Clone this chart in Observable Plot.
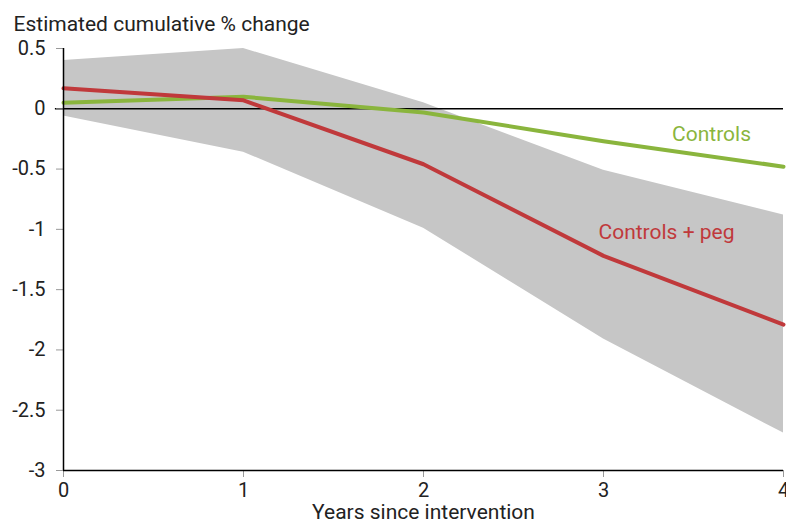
<!DOCTYPE html>
<html>
<head>
<meta charset="utf-8">
<script src="https://cdn.jsdelivr.net/npm/d3@7"></script>
<script src="https://cdn.jsdelivr.net/npm/@observablehq/plot@0.6"></script>
<style>
  html, body { margin: 0; padding: 0; background: #fff; }
  svg { font-family: Roboto, "Noto Sans", sans-serif; }
</style>
</head>
<body>
<div id="chart"></div>
<script>
const years = [0, 1, 2, 3, 4];
const bandUpper = [0.40, 0.50, 0.05, -0.51, -0.88];
const bandLower = [-0.06, -0.36, -0.99, -1.91, -2.69];
const controls = [0.05, 0.10, -0.03, -0.27, -0.48];
const controlsPeg = [0.17, 0.07, -0.46, -1.22, -1.79];
const yTicks = [0.5, 0, -0.5, -1, -1.5, -2, -2.5, -3];
const xTicks = [0, 1, 2, 3, 4];

const band = years.map((x, i) => ({x, lo: bandLower[i], hi: bandUpper[i]}));
const green = years.map((x, i) => ({x, y: controls[i]}));
const red = years.map((x, i) => ({x, y: controlsPeg[i]}));

const fmt = d => d === 0 ? "0" : String(d);

const chart = Plot.plot({
  width: 786,
  height: 523,
  marginLeft: 63,
  marginRight: 3,
  marginTop: 48,
  marginBottom: 53,
  style: {fontFamily: "Roboto, sans-serif", fontSize: "20px", color: "#222", background: "#fff"},
  x: {domain: [0, 4]},
  y: {domain: [-3, 0.5]},
  marks: [
    Plot.areaY(band, {x: "x", y1: "lo", y2: "hi", fill: "#c6c6c6"}),
    Plot.ruleY([0], {stroke: "#000", strokeWidth: 1.5, x1: -0.045, x2: 4}),
    Plot.line(green, {x: "x", y: "y", stroke: "#8ab53d", strokeWidth: 4}),
    Plot.line(red, {x: "x", y: "y", stroke: "#c0393b", strokeWidth: 4}),
    Plot.axisY(yTicks, {tickSize: 7, tickPadding: 11, tickFormat: fmt, stroke: "#999", fill: "#222", fontSize: 20, label: null}),
    Plot.axisX(xTicks, {tickSize: 7, tickPadding: 5, tickFormat: fmt, stroke: "#999", fill: "#222", fontSize: 20, label: null}),
    Plot.ruleX([0], {stroke: "#000", strokeWidth: 1.5}),
    Plot.ruleY([-3], {stroke: "#000", strokeWidth: 1.5}),
    Plot.text(["Estimated cumulative % change"], {frameAnchor: "top-left", dx: -50, dy: -32, textAnchor: "start", fontSize: 21, fill: "#222"}),
    Plot.text(["Years since intervention"], {frameAnchor: "bottom", dy: 48, fontSize: 21, fill: "#222"}),
    Plot.text(["Controls"], {x: 3.6, y: -0.215, textAnchor: "middle", fill: "#8ab53d", fontSize: 21}),
    Plot.text(["Controls + peg"], {x: 3.35, y: -1.026, textAnchor: "middle", fill: "#c0393b", fontSize: 21})
  ]
});
document.getElementById("chart").appendChild(chart);
</script>
</body>
</html>
